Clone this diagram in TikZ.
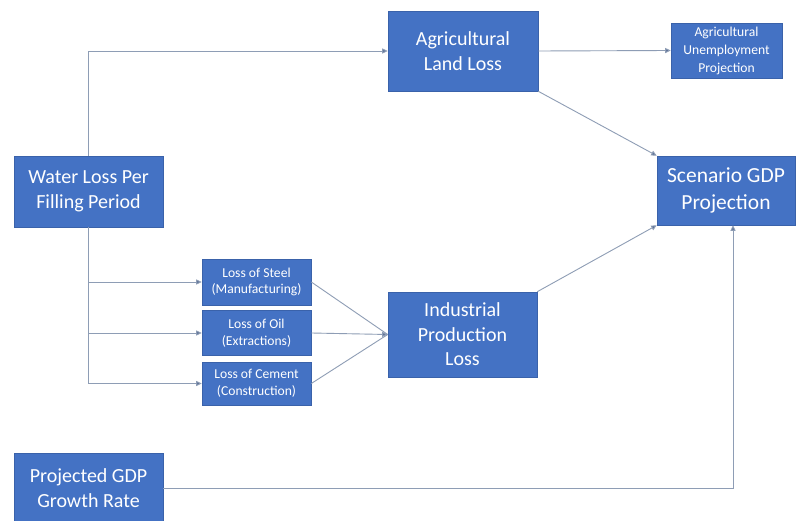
\documentclass[tikz,border=0pt]{standalone}
\usepackage{fontspec}
\setmainfont{Carlito}
\usetikzlibrary{arrows.meta}
\definecolor{boxblue}{HTML}{4472C4}
\definecolor{boxedge}{HTML}{3A62AA}
\definecolor{linecol}{HTML}{8E9DB5}
\definecolor{tipcol}{HTML}{5C7096}
\tikzset{
  box/.style={rectangle, fill=boxblue, draw=boxedge, line width=0.6pt, text=white,
    align=center, inner sep=0pt},
  bigtxt/.style={font=\fontsize{20}{24.5}\selectfont},
  gdptxt/.style={font=\fontsize{21.5}{27}\selectfont},
  smalltxt/.style={font=\fontsize{13.6}{16.5}\selectfont},
  midtxt/.style={font=\fontsize{13.6}{18}\selectfont},
  conn/.style={draw=linecol, line width=0.9pt},
  arr/.style={conn, -{Triangle[length=5.5pt,width=5pt,fill=tipcol]}},
}
\begin{document}
\begin{tikzpicture}[x=1pt,y=-1pt]
\path[fill=white,use as bounding box] (0,0) rectangle (797,521);

\node[box,bigtxt,minimum width=149pt,minimum height=71pt] (water) at (88.5,191.5) {Water Loss Per\\Filling Period};
\node[box,bigtxt,minimum width=150pt,minimum height=80pt] (agland) at (463,51) {Agricultural\\Land Loss};
\node[box,midtxt,minimum width=111pt,minimum height=55pt] (agunemp) at (726.5,50.5) {Agricultural\\Unemployment\\Projection};
\node[box,gdptxt,minimum width=138pt,minimum height=69pt] (scenario) at (726,190.5) {Scenario GDP\\Projection};
\node[box,smalltxt,minimum width=109pt,minimum height=46pt] (steel) at (256.5,282) {Loss of Steel\\(Manufacturing)};
\node[box,smalltxt,minimum width=109pt,minimum height=45pt] (oil) at (256.5,333) {Loss of Oil\\(Extractions)};
\node[box,smalltxt,minimum width=109pt,minimum height=43pt] (cement) at (256.5,383.5) {Loss of Cement\\(Construction)};
\node[box,bigtxt,minimum width=149pt,minimum height=85pt] (industrial) at (462.5,334.5) {Industrial\\Production\\Loss};
\node[box,bigtxt,minimum width=149pt,minimum height=70pt] (projected) at (88.5,488) {Projected GDP\\Growth Rate};

% water loss to agricultural land loss
\draw[arr] (water.north) |- (agland.west);
% water loss down to the three sector losses
\draw[conn] (water.south) -- (water.south |- cement.west);
\draw[arr] (water.south |- steel.west) -- (steel.west);
\draw[arr] (water.south |- oil.west) -- (oil.west);
\draw[arr] (water.south |- cement.west) -- (cement.west);
% sector losses to industrial production loss
\draw[conn] (steel.east) -- (industrial.west);
\draw[conn] (cement.east) -- (industrial.west);
\draw[arr] (oil.east) -- (industrial.west);
% agricultural outputs
\draw[arr] (agland.east) -- (agunemp.west);
\draw[arr] (agland.south east) -- (scenario.north west);
\draw[arr] (industrial.north east) -- (scenario.south west);
% projected growth to scenario
\draw[arr] (projected.east) -| ([xshift=7pt]scenario.south);
\end{tikzpicture}
\end{document}
